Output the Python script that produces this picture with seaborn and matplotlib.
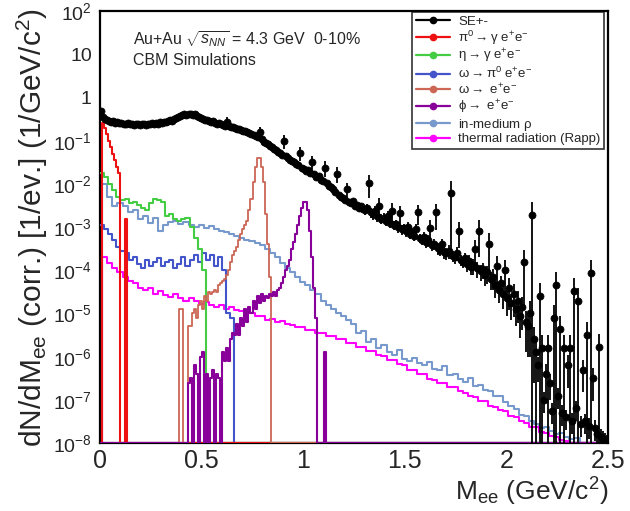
import numpy as np
import pandas as pd
import matplotlib
matplotlib.use("Agg")
import matplotlib.pyplot as plt
import seaborn as sns
from matplotlib.lines import Line2D
from matplotlib.ticker import FixedLocator, FixedFormatter, NullLocator

# ---------------- data (log10 of dN/dM; None = empty bin) ----------------
# same-event dielectron spectrum, 0.01 GeV bins starting at 0
se_start, se_width = 0.0, 0.01
se_log = [
    -0.30, -0.45, -0.50, -0.53, -0.55, -0.56, -0.55, -0.58, -0.57, -0.59,
    -0.58, -0.60, -0.61, -0.59, -0.62, -0.60, -0.63, -0.61, -0.62, -0.64,
    -0.62, -0.61, -0.63, -0.60, -0.62, -0.59, -0.61, -0.58, -0.60, -0.57,
    -0.58, -0.56, -0.57, -0.55, -0.53, -0.54, -0.50, -0.48, -0.45, -0.43,
    -0.41, -0.39, -0.40, -0.37, -0.38, -0.40, -0.39, -0.42, -0.44, -0.47,
    -0.49, -0.52, -0.51, -0.54, -0.56, -0.55, -0.58, -0.60, -0.59, -0.62,
    -0.63, -0.65, -0.56, -0.66, -0.69, -0.68, -0.71, -0.73, -0.72, -0.76,
    -0.78, -0.77, -0.80, -0.82, -0.84, -0.86, -0.88, -0.92, -0.80, -0.97,
    -1.02, -1.05, -1.08, -1.12, -1.15, -1.18, -1.22, -1.26, -1.28, -1.32,
    -1.00, -1.36, -1.40, -1.44, -1.46, -1.50, -1.53, -1.55, -1.28, -1.62,
    -1.66, -1.70, -1.68, -1.75, -1.50, -1.78, -1.84, -1.82, -1.90, -1.94,
    -1.62, -1.98, -2.04, -2.08, -2.12, -2.18, -1.76, -2.25, -2.30, -2.33,
    -2.37, -2.12, -2.42, -2.45, -2.40, -2.50, -2.48, -2.55, -2.52, -2.58,
    -2.60, -2.55, -1.98, -2.66, -2.70, -2.62, -2.75, -2.50, -2.80, -2.78,
    -2.85, -2.75, -2.90, -2.62, -2.95, -2.92, -3.00, -2.68, -3.05, -3.02,
    -3.10, -3.00, -3.15, -3.12, -3.20, -3.05, -2.66, -3.25, -3.30, -3.22,
    -3.35, -3.30, -3.02, -3.42, -3.38, -2.66, -3.48, -3.52, -3.40, -3.58,
    -3.60, -3.55, -2.22, -3.66, -3.70, -3.60, -3.08, -3.75, -3.80, -3.72,
    -3.85, -3.78, -3.92, -3.88, -3.50, -3.95, -3.08, -4.02, -3.98, -4.10,
    -4.05, -3.38, -4.20, -4.15, -4.35, -3.90, -4.45, -4.30, -4.55, -4.00,
    -4.65, -4.40, -4.75, -4.55, -4.90, -4.70, -5.05, -4.85, -3.80, -5.20,
    -5.30, -5.00, -2.72, -5.60, -5.90, -6.20, -4.60, -5.80, -7.00, -6.40,
    -5.80, -6.60, -7.26, -5.10, -4.35, -6.90, -5.35, -7.30, -5.80, -7.40,
    -6.20, -5.80, -7.48, -4.47, -7.20, -4.70, -7.55, -6.30, -7.50, -5.50,
    -7.60, -4.07, -6.50, -7.65, -7.80, -5.77, -7.85, -7.90, -7.95, -8.00]
se_relerr = (
    [0.03] * 62 + [0.30] + [0.03] * 15 + [0.30] + [0.05] * 11 + [0.35] + [0.06] * 7 + [0.35] + [0.06]
    + [0.12] * 4 + [0.40] + [0.12] * 5 + [0.40] + [0.12] * 5 + [0.40] + [0.12] * 4 + [0.40] + [0.15] * 8
    + [0.25, 0.25, 0.55, 0.25, 0.25, 0.30, 0.25, 0.50, 0.25, 0.25,
       0.25, 0.30, 0.25, 0.50, 0.25, 0.25, 0.25, 0.50, 0.25, 0.25,
       0.25, 0.30, 0.25, 0.25, 0.25, 0.30, 0.50, 0.25, 0.25, 0.30,
       0.25, 0.30, 0.50, 0.25, 0.30, 0.60, 0.30, 0.30, 0.35, 0.30,
       0.30, 0.35, 0.97, 0.30, 0.30, 0.35, 0.60, 0.30, 0.30, 0.35,
       0.35, 0.40, 0.35, 0.40, 0.60, 0.40, 0.75, 0.40, 0.40, 0.45,
       0.45, 0.75, 0.45, 0.50, 0.50, 0.70, 0.50, 0.50, 0.55, 0.75,
       0.60, 0.70, 0.60, 0.70, 0.60, 0.70, 0.70, 0.70, 0.90, 0.80,
       0.80, 0.90, 1.00, 0.90, 1.00, 0.60, 1.00, 1.00, 0.50, 0.70,
       1.00, 0.60, 0.50, 1.00, 1.00, 0.50, 1.00, 0.50, 1.00, 0.50,
       0.70, 1.00, 0.50, 1.00, 0.50, 1.00, 0.50, 0.70, 0.50, 1.00,
       0.50, 1.00, 0.70, 0.50, 0.50, 1.00, 0.50, 0.50, 0.50, 0.50])

# pi0 Dalitz, 0.01 GeV bins from 0
pi0_start, pi0_width = 0.0, 0.01
pi0_log = [None, -0.58, -0.70, -0.85, -1.00, -1.15, -1.30, -1.45, -1.60, -1.75,
           None, None, -2.80, None, None]

# eta Dalitz, 0.02 GeV bins from 0
eta_start, eta_width = 0.0, 0.02
eta_log = [-1.75, -1.85, -2.00, -2.15, -2.30, -2.38, -2.35, -2.45, -2.42, -2.48,
           -2.55, -2.60, -2.45, -2.35, -2.38, -2.42, -2.75, -2.70, -2.82, -2.85,
           -2.80, -2.78, -3.00, -3.25, -3.50, -4.00, None]

# omega Dalitz, 0.02 GeV bins from 0
omd_start, omd_width = 0.0, 0.02
omd_log = [-2.95, -3.05, -3.15, -3.30, -3.45, -3.55, -3.60, -3.75, -3.70, -3.85,
           -3.95, -3.75, -3.90, -3.80, -3.72, -3.90, -3.80, -3.75, -3.95, -3.85,
           -3.70, -3.90, -3.75, -3.65, -3.80, -3.60, -3.75, -3.65, -3.90, -3.70,
           -4.00, -5.00, -5.10, None]

# omega -> ee, 0.01 GeV bins from 0.38
ome_start, ome_width = 0.38, 0.01
ome_log = [None, -4.90, -4.90, None, None, -5.30, -5.30, -5.00, -4.90, -5.10,
           -4.80, -4.70, -4.90, -4.60, -4.70, -4.50, -4.55, -4.50, -4.45, -4.50,
           -4.35, -4.30, -4.25, -4.20, -4.10, -4.00, -3.80, -3.65, -3.55, -3.45,
           -3.30, -3.15, -3.05, -2.95, -2.85, -2.60, -2.35, -1.95, -1.60, -1.40,
           -1.40, -1.60, -1.95, -2.70, -3.40, -4.15, None, None]

# phi -> ee, 0.01 GeV bins from 0.42
phi_start, phi_width = 0.42, 0.01
phi_log = [None, -6.60, -6.50, None, -6.20, -6.40, None, -6.00, -5.90, None,
           -6.40, None, -6.50, -6.30, None, -6.40, -6.50, None, -5.90, -6.10,
           -5.80, -6.10, -5.60, -5.45, -5.50, -5.25, -5.50, -5.10, -5.30, -4.90,
           -5.20, -4.85, -5.00, -4.70, -4.90, -4.60, -4.75, -4.55, -4.70, -4.60,
           -4.65, -4.55, -4.60, -4.50, -4.60, -4.45, -4.40, -4.30, -4.15, -4.00,
           -3.90, -3.75, -3.50, -3.35, -3.15, -2.95, -2.75, -2.55, -2.42, -2.42,
           -2.60, -3.10, -3.70, -4.40, -5.10, None, None, None, -5.90, None, None]

# in-medium rho, 0.025 GeV bins from 0.01
rho_start, rho_width = 0.01, 0.025
rho_log = [-2.00, -2.30, -2.50, -2.45, -2.50, -2.65, -2.60, -2.80, -2.75, -2.90,
           -2.78, -3.10, -2.95, -2.88, -2.85, -2.92, -2.88, -2.95, -3.00, -2.95,
           -3.02, -2.98, -3.05, -3.08, -3.12, -3.15, -3.20, -3.25, -3.30, -3.33,
           -3.36, -3.42, -3.50, -3.60, -3.70, -3.82, -3.95, -4.05, -4.15, -4.28,
           -4.35, -4.45, -4.55, -4.70, -4.80, -4.90, -5.00, -5.05, -5.15, -5.25,
           -5.45, -5.40, -5.65, -5.60, -5.80, -5.72, -5.90, -5.95, -5.85, -6.05,
           -6.10, -6.02, -6.15, -6.20, -6.12, -6.28, -6.30, -6.22, -6.42, -6.40,
           -6.52, -6.58, -6.50, -6.68, -6.66, -6.78, -6.80, -6.90, -6.92, -7.05,
           -7.15, -7.22, -7.35, -7.38, -7.50, -7.56, -7.65, -7.62, -7.72, -7.80,
           -7.76, -7.85, -7.90, -7.88, None]

# thermal radiation (Rapp), 0.025 GeV bins from 0.01
thr_start, thr_width = 0.01, 0.025
thr_log = [-3.68, -3.82, -3.95, -4.05, -4.15, -4.25, -4.30, -4.40, -4.45, -4.40,
           -4.55, -4.48, -4.58, -4.62, -4.55, -4.65, -4.70, -4.63, -4.72, -4.78,
           -4.73, -4.80, -4.86, -4.80, -4.90, -4.86, -4.93, -4.95, -5.00, -5.00,
           -5.06, -5.06, -5.14, -5.13, -5.20, -5.18, -5.25, -5.26, -5.32, -5.31,
           -5.38, -5.38, -5.46, -5.45, -5.52, -5.51, -5.58, -5.60, -5.68, -5.68,
           -5.77, -5.78, -5.86, -5.88, -5.97, -5.98, -6.07, -6.08, -6.18, -6.20,
           -6.30, -6.30, -6.40, -6.40, -6.52, -6.53, -6.62, -6.60, -6.70, -6.70,
           -6.80, -6.83, -6.92, -6.93, -7.02, -7.03, -7.14, -7.16, -7.24, -7.26,
           -7.37, -7.40, -7.50, -7.53, -7.62, -7.64, -7.74, -7.76, -7.84, -7.86,
           -7.94, -7.95, None]

labels = ["SE+-",
          r"$\mathrm{\pi}^0\rightarrow\mathrm{\gamma}$ e$^{+}$e$^{-}$",
          r"$\mathrm{\eta}\rightarrow\mathrm{\gamma}$ e$^{+}$e$^{-}$",
          r"$\mathrm{\omega}\rightarrow\mathrm{\pi}^0$ e$^{+}$e$^{-}$",
          r"$\mathrm{\omega}\rightarrow$ e$^{+}$e$^{-}$",
          r"$\mathrm{\phi}\rightarrow$ e$^{+}$e$^{-}$",
          r"in-medium $\mathrm{\rho}$",
          "thermal radiation (Rapp)"]
colors = ["#000000", "#ee1111", "#44cc44", "#4455cc", "#cc6655", "#880099", "#7799cc", "#ff00ff"]

y_ticks = [1e-8, 1e-7, 1e-6, 1e-5, 1e-4, 1e-3, 1e-2, 1e-1, 1, 10, 100]
y_ticklabels = [r"$10^{-8}$", r"$10^{-7}$", r"$10^{-6}$", r"$10^{-5}$", r"$10^{-4}$",
                r"$10^{-3}$", r"$10^{-2}$", r"$10^{-1}$", "1", "10", r"$10^{2}$"]
x_ticks = [0, 0.5, 1, 1.5, 2, 2.5]
x_ticklabels = ["0", "0.5", "1", "1.5", "2", "2.5"]

FLOOR = 1e-8
XMAX = 2.5

# ---------------- style ----------------
sns.set_style("white")
plt.rcParams["font.family"] = ["Liberation Sans", "DejaVu Sans"]
plt.rcParams["mathtext.fontset"] = "custom"
plt.rcParams["mathtext.rm"] = "Liberation Sans"
plt.rcParams["mathtext.it"] = "Liberation Sans:italic"
plt.rcParams["mathtext.bf"] = "Liberation Sans:bold"

fig = plt.figure(figsize=(6.3, 5.11), dpi=100)
ax = fig.add_axes([0.159, 0.133, 0.806, 0.845])


def draw_component(start, width, logs, color, lw=1.5, z=2):
    n = len(logs)
    edges = [float(start + width * k) for k in range(n + 1)]
    vals = [FLOOR if v is None else 10.0 ** v for v in logs]
    if start > 0:
        edges = [0.0] + edges
        vals = [FLOOR] + vals
    if edges[-1] < XMAX - 1e-9:
        edges = edges + [XMAX]
        vals = vals + [FLOOR]
    centers = [0.5 * (edges[i] + edges[i + 1]) for i in range(len(vals))]
    df = pd.DataFrame({"mass": centers, "yield": vals})
    sns.histplot(data=df, x="mass", weights="yield", bins=edges, element="step",
                 fill=False, color=color, linewidth=lw, ax=ax, zorder=z)


draw_component(rho_start, rho_width, rho_log, colors[6], z=2)
draw_component(thr_start, thr_width, thr_log, colors[7], z=3)
draw_component(omd_start, omd_width, omd_log, colors[3], z=4)
draw_component(eta_start, eta_width, eta_log, colors[2], z=4)
draw_component(pi0_start, pi0_width, pi0_log, colors[1], z=5)
draw_component(ome_start, ome_width, ome_log, colors[4], lw=1.3, z=5)
draw_component(phi_start, phi_width, phi_log, colors[5], z=6)

# SE points with error bars
se_x = se_start + se_width * (np.arange(len(se_log)) + 0.5)
se_y = 10.0 ** np.array(se_log)
rel = np.array(se_relerr)
lower = se_y - np.maximum(se_y * (1 - rel), 1e-10)
upper = se_y * rel
ax.errorbar(se_x, se_y, yerr=[lower, upper], fmt="none", ecolor="black",
            elinewidth=1.3, capsize=0, zorder=7)
sns.scatterplot(x=se_x, y=se_y, color="black", s=26, edgecolor="black",
                linewidth=0.5, ax=ax, zorder=8, legend=False)

ax.set_yscale("log")
ax.set_xlim(0, XMAX)
ax.set_ylim(1e-8, 1e2)
ax.yaxis.set_major_locator(FixedLocator(y_ticks))
ax.yaxis.set_major_formatter(FixedFormatter(y_ticklabels))
ax.yaxis.set_minor_locator(NullLocator())
ax.xaxis.set_major_locator(FixedLocator(x_ticks))
ax.xaxis.set_major_formatter(FixedFormatter(x_ticklabels))
ax.tick_params(axis="x", length=0, labelsize=18, pad=4)
ax.tick_params(axis="y", length=0, labelsize=14, pad=6)
for sp in ax.spines.values():
    sp.set_linewidth(1.6)
    sp.set_color("black")

ax.set_xlabel(r"M$_{\mathrm{ee}}$ (GeV/c$^{2}$)", fontsize=19, loc="right", labelpad=2)
ax.set_ylabel(r"dN/dM$_{\mathrm{ee}}$ (corr.) [1/ev.] (1/GeV/c$^{2}$)", fontsize=21.5,
              loc="center", labelpad=2)

ax.text(0.065, 0.935, r"Au+Au $\sqrt{s_{NN}}$ = 4.3 GeV  0-10%", transform=ax.transAxes,
        fontsize=11.5, ha="left", va="center")
ax.text(0.065, 0.885, "CBM Simulations", transform=ax.transAxes,
        fontsize=11.5, ha="left", va="center")

handles = [Line2D([0], [0], color=c, lw=1.6, marker="o", markersize=4.5) for c in colors]
leg = ax.legend(handles, labels, loc="upper right", bbox_to_anchor=(0.993, 0.999),
                fontsize=9.5, frameon=True, fancybox=False, handlelength=2.6,
                labelspacing=0.05, borderpad=0.3, handletextpad=0.6, borderaxespad=0.0)
leg.get_frame().set_edgecolor("black")
leg.get_frame().set_linewidth(1.2)
leg.set_zorder(20)

fig.savefig("out.png", dpi=100)
